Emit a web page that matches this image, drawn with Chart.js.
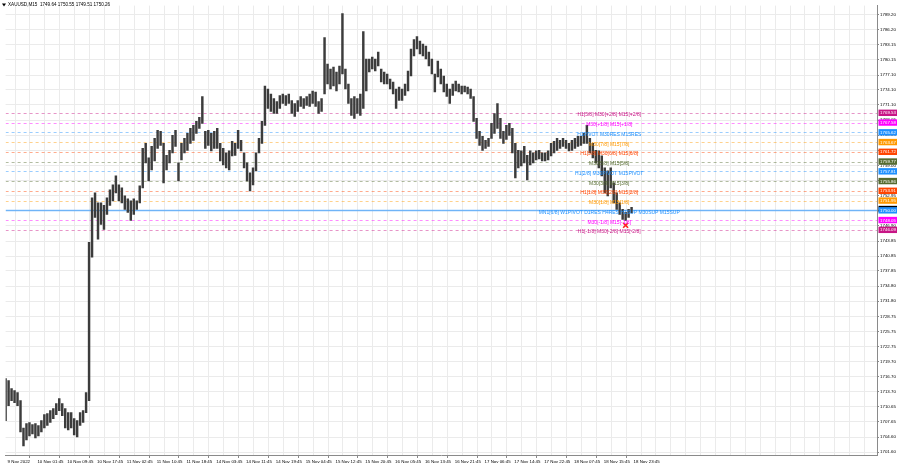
<!DOCTYPE html>
<html><head><meta charset="utf-8">
<script src="https://cdn.jsdelivr.net/npm/chart.js@4.4.0/dist/chart.umd.min.js"></script>
<style>html,body{margin:0;padding:0;background:#fff;overflow:hidden}#wrap{width:900px;height:468px;position:relative}</style>
</head><body><div id="wrap"><canvas id="c" width="900" height="468"></canvas></div>
<script>
const symbolTitle = 'XAUUSD,M15  1749.64 1750.55 1749.51 1750.26';
const timeLabels = ['9 Nov 2022','10 Nov 01:45','10 Nov 09:45','10 Nov 17:45','11 Nov 02:45','11 Nov 10:45','11 Nov 18:45','14 Nov 03:45','14 Nov 11:45','14 Nov 19:45','15 Nov 04:45','15 Nov 12:45','15 Nov 20:45','16 Nov 05:45','16 Nov 13:45','16 Nov 21:45','17 Nov 06:45','17 Nov 14:45','17 Nov 22:45','18 Nov 07:45','18 Nov 15:45','18 Nov 23:45'];
const priceTicks = [1789.20,1786.20,1783.15,1780.15,1777.10,1774.10,1771.10,1768.05,1765.05,1762.00,1759.00,1755.95,1752.95,1749.90,1746.90,1743.85,1740.85,1737.85,1734.80,1731.80,1728.75,1725.75,1722.75,1719.70,1716.70,1713.70,1710.65,1707.65,1704.60,1701.60];
const highs = [
 1716.3,1715.9,1714.3,1713.9,1713.5,1711.9,1706.4,1707.3,1707.5,1707.1,
 1707.3,1706.9,1707.9,1709.1,1709.3,1709.9,1710.3,1711.3,1712.3,1711.3,
 1710.3,1709.5,1709.5,1708.3,1707.9,1709.5,1709.9,1713.5,1743.6,1752.5,
 1753.5,1751.5,1751.5,1751.0,1752.5,1754.1,1755.1,1756.9,1755.1,1754.5,
 1752.9,1752.3,1751.9,1752.3,1751.9,1754.9,1762.4,1763.4,1760.5,1762.8,
 1764.4,1766.0,1765.8,1763.4,1761.0,1762.0,1765.0,1766.0,1759.5,1763.4,
 1764.4,1765.4,1766.4,1767.0,1767.8,1768.6,1772.8,1765.8,1766.0,1765.4,
 1765.8,1766.4,1763.4,1762.4,1761.5,1761.9,1763.8,1763.4,1766.0,1764.0,
 1761.5,1759.5,1757.5,1758.5,1761.5,1764.4,1767.8,1774.9,1774.3,1773.3,
 1772.4,1771.8,1773.0,1773.3,1773.0,1773.3,1772.0,1771.4,1772.0,1772.8,
 1772.4,1772.8,1773.3,1773.9,1773.7,1771.8,1772.4,1784.6,1779.3,1778.3,
 1778.7,1777.7,1778.9,1789.4,1778.3,1775.3,1772.4,1772.8,1772.4,1773.3,
 1785.8,1780.3,1780.3,1780.7,1780.3,1781.7,1778.3,1777.7,1777.3,1776.3,
 1775.7,1774.3,1774.7,1774.3,1775.3,1777.9,1782.3,1784.2,1784.8,1783.9,
 1783.3,1782.9,1781.7,1780.3,1777.3,1779.9,1778.3,1776.9,1775.3,1774.3,
 1775.3,1775.9,1775.3,1774.9,1774.9,1774.7,1774.3,1772.8,1768.4,1765.8,
 1764.8,1764.0,1764.4,1767.4,1769.4,1771.4,1768.4,1765.8,1767.0,1767.4,
 1766.4,1763.4,1762.0,1761.9,1762.8,1761.0,1761.9,1761.5,1761.9,1762.0,
 1761.5,1761.5,1761.9,1763.4,1763.8,1764.4,1764.0,1764.4,1764.0,1763.4,
 1764.0,1764.4,1764.8,1764.8,1765.4,1767.0,1764.4,1763.4,1762.0,1761.9,
 1760.9,1758.5,1757.9,1758.5,1755.5,1753.5,1751.5,1750.2,1749.6,1750.2,
 1750.6];
const lows = [
 1707.9,1710.9,1711.9,1711.5,1710.9,1705.6,1702.8,1704.0,1704.8,1705.2,
 1704.4,1704.8,1705.6,1706.4,1706.9,1707.5,1708.3,1709.1,1709.9,1708.9,
 1706.4,1706.0,1706.4,1705.0,1704.6,1706.9,1707.5,1709.5,1711.9,1740.6,
 1748.6,1744.2,1747.2,1746.2,1749.2,1751.0,1751.9,1753.5,1751.9,1751.5,
 1750.2,1749.6,1748.0,1749.2,1750.2,1751.5,1754.5,1759.5,1755.9,1758.1,
 1759.9,1762.4,1763.0,1755.5,1758.1,1759.5,1761.5,1762.8,1755.9,1760.1,
 1761.5,1762.0,1763.4,1764.0,1765.4,1766.4,1767.4,1762.4,1763.0,1761.9,
 1762.4,1762.4,1759.9,1759.1,1758.5,1758.1,1760.9,1761.0,1762.4,1761.9,
 1758.5,1755.9,1753.9,1755.1,1757.9,1761.5,1763.4,1767.0,1770.4,1769.8,
 1769.4,1769.4,1770.4,1771.4,1771.0,1771.4,1769.4,1768.8,1769.8,1770.8,
 1770.4,1771.0,1770.8,1771.4,1770.8,1769.4,1769.8,1773.3,1775.3,1774.3,
 1774.9,1773.9,1775.3,1777.3,1774.3,1771.4,1769.0,1768.4,1769.4,1769.0,
 1770.4,1773.9,1777.7,1778.3,1777.9,1778.9,1775.7,1775.3,1775.3,1774.3,
 1773.3,1770.4,1772.0,1772.0,1773.0,1773.9,1776.9,1780.9,1782.3,1781.3,
 1780.9,1780.3,1778.9,1777.3,1773.7,1776.7,1775.3,1773.7,1772.8,1771.4,
 1773.0,1773.9,1773.7,1773.3,1773.7,1773.3,1772.4,1767.8,1764.4,1763.0,
 1762.0,1762.4,1762.8,1764.4,1765.4,1766.4,1764.4,1763.4,1764.2,1765.0,
 1761.5,1756.5,1758.5,1758.9,1759.5,1756.1,1759.1,1759.5,1760.1,1760.3,
 1759.9,1759.9,1760.1,1760.9,1761.5,1762.0,1762.4,1762.8,1762.4,1761.9,
 1762.0,1762.4,1762.8,1763.0,1763.4,1763.4,1761.5,1760.5,1759.5,1758.5,
 1756.9,1753.5,1752.9,1754.5,1751.5,1750.2,1749.2,1748.2,1748.0,1748.6,
 1749.5];
const levelPrices = [1769.53,1767.58,1765.62,1763.67,1761.72,1759.77,1757.81,1755.86,1753.91,1751.95,1750.00,1748.05,1746.09];
const levelNames = ['H1[5/8] M30[+2/8] M15[+2/8]','M30[+1/8] M15[+1/8]','H1PIVOT M30RES M15RES','M30[7/8] M15[7/8]','H1[3/8] M30[6/8] M15[6/8]','M30[5/8] M15[5/8]','H1[2/8] M30PIVOT M15PIVOT','M30[3/8] M15[3/8]','H1[1/8] M30[2/8] M15[2/8]','M30[1/8] M15[1/8]','MN1[6/8] W1PIVOT D1RES H4RES H1SUP M30SUP M15SUP','M30[-1/8] M15[-1/8]','H1[-1/8] M30[-2/8] M15[-2/8]'];
const levelColors = ['#c71585','#ff00ff','#1e90ff','#ff9900','#ff4500','#556b2f','#1e90ff','#556b2f','#ff4500','#ff9900','#1e90ff','#ff00ff','#c71585'];
const solidLevel = 1750.00;
const lastPrice = 1750.26;
const signalBar = 208;
const signalPrice = 1747.0;

const LABEL_CENTER = 202.5;
const FONT = 'Liberation Sans, Arial, sans-serif';

function rgba(hex, a) {
  const n = parseInt(hex.slice(1), 16);
  return `rgba(${(n>>16)&255},${(n>>8)&255},${n&255},${a})`;
}
function noPad(s) { s.paddingTop = 0; s.paddingBottom = 0; s.paddingLeft = 0; s.paddingRight = 0; }

const overlay = {
  id: 'overlay',
  beforeDatasetsDraw(chart) {
    const {ctx, chartArea: a, scales: {y}} = chart;
    ctx.save();
    ctx.beginPath(); ctx.rect(a.left, a.top, a.width, a.height); ctx.clip();
    levelPrices.forEach((p, i) => {
      const py = Math.round(y.getPixelForValue(p)) + 0.5;
      ctx.beginPath();
      if (p === solidLevel) { ctx.setLineDash([]); ctx.strokeStyle = 'rgba(30,144,255,0.6)'; ctx.lineWidth = 1.3; }
      else { ctx.setLineDash([3, 3]); ctx.strokeStyle = rgba(levelColors[i], 0.45); ctx.lineWidth = 1; }
      ctx.moveTo(a.left, py); ctx.lineTo(a.right, py); ctx.stroke();
    });
    ctx.restore();
  },
  afterDatasetsDraw(chart) {
    const {ctx, scales: {x, y}} = chart;
    ctx.save();
    ctx.font = '5px ' + FONT;
    ctx.textAlign = 'center';
    ctx.textBaseline = 'middle';
    const cx = x.getPixelForValue(LABEL_CENTER);
    levelPrices.forEach((p, i) => {
      ctx.fillStyle = levelColors[i];
      ctx.fillText(levelNames[i], cx, y.getPixelForValue(p) + 2.2);
    });
    ctx.restore();
  },
  afterDraw(chart) {
    const {ctx, chartArea: a, scales: {y}} = chart;
    ctx.save();
    ctx.font = '4.4px ' + FONT;
    ctx.textBaseline = 'middle';
    ctx.textAlign = 'left';
    const bx = a.right + 1.5, bw = 897 - bx;
    const box = (p, bg, fg) => {
      const py = y.getPixelForValue(p);
      ctx.fillStyle = bg; ctx.fillRect(bx, py - 3.2, bw, 6.4);
      ctx.fillStyle = fg; ctx.fillText(p.toFixed(2), bx + 1.6, py + 0.3);
    };
    box(lastPrice, '#000000', '#ffffff');
    levelPrices.forEach((p, i) => box(p, levelColors[i], '#ffffff'));
    ctx.fillStyle = '#000';
    ctx.beginPath(); ctx.moveTo(2, 3.5); ctx.lineTo(6, 3.5); ctx.lineTo(4, 6.5); ctx.closePath(); ctx.fill();
    ctx.font = '4.6px ' + FONT;
    ctx.fillText(symbolTitle, 8, 5);
    ctx.restore();
  }
};

const bars = highs.map((h, i) => ({x: i, y: [lows[i], h]}));

new Chart(document.getElementById('c'), {
  type: 'bar',
  data: {
    datasets: [
      { type: 'scatter', data: [{x: signalBar, y: signalPrice}], pointStyle: 'crossRot', pointRadius: 3.5,
        borderColor: '#ff2020', borderWidth: 1.6, backgroundColor: '#ff2020', order: 0 },
      { type: 'bar', data: bars, backgroundColor: '#3c3c3c', borderWidth: 0, barThickness: 1.8, grouped: false, order: 1 }
    ]
  },
  options: {
    responsive: false, animation: false,
    layout: { padding: { left: 0, right: 0, top: 1, bottom: 0 } },
    plugins: { legend: { display: false }, tooltip: { enabled: false } },
    scales: {
      x: {
        type: 'linear', min: 0, max: 292.33, offset: false,
        afterBuildTicks: s => { const t = []; for (let k = 0; 5 * k + 2/3 <= 292.33; k++) t.push({value: 5 * k + 2/3}); s.ticks = t; },
        afterFit: s => { s.height = 13; noPad(s); },
        ticks: {
          autoSkip: false, maxRotation: 0, minRotation: 0, align: 'start', padding: 1,
          font: { family: FONT, size: 4.4 }, color: '#000',
          callback: (v, i) => (i % 2 === 0 && timeLabels[i / 2]) ? timeLabels[i / 2] : ''
        },
        grid: { color: '#ebebeb', lineWidth: 1, tickLength: 3,
          tickColor: c => (c.index % 2 === 0 && c.index / 2 < timeLabels.length) ? '#888' : 'rgba(0,0,0,0)' },
        border: { color: '#8a8a8a' }
      },
      y: {
        type: 'linear', position: 'right', min: 1701.0, max: 1791.0,
        afterBuildTicks: s => { s.ticks = priceTicks.map(v => ({value: v})); },
        afterFit: s => { s.width = 23; noPad(s); },
        ticks: { padding: 1, font: { family: FONT, size: 4.4 }, color: '#000', callback: v => Number(v).toFixed(2) },
        grid: { color: '#ebebeb', lineWidth: 1, tickLength: 2, tickColor: '#888' },
        border: { color: '#8a8a8a' }
      }
    }
  },
  plugins: [overlay]
});
</script>
</body></html>
